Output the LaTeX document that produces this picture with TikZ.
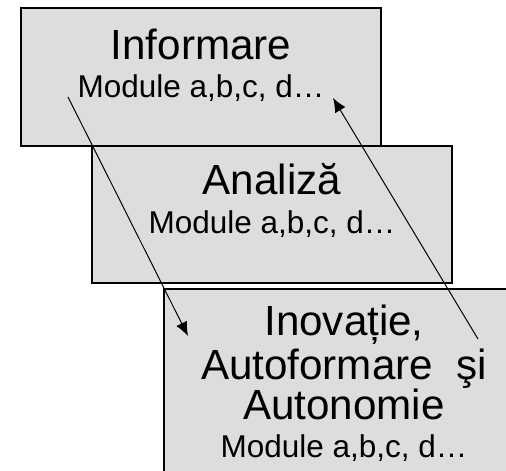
\documentclass[tikz,border=0pt]{standalone}
\usepackage{fontspec}
\setmainfont{Liberation Sans}
\usepackage{xcolor}
\usetikzlibrary{arrows.meta}
\definecolor{boxgray}{HTML}{DDDDDD}

\begin{document}
\begin{tikzpicture}[box/.style={draw=black,fill=boxgray,line width=1.1pt,minimum width=9cm},
  big/.style={anchor=base,font=\fontsize{30}{30}\selectfont},
  small/.style={anchor=base,font=\fontsize{22.4}{22.4}\selectfont},
  flow/.style={-{Latex[length=10pt,width=8.5pt]},line width=0.7pt}]
\useasboundingbox (0,0) rectangle (12.65,11.75);
\clip (0,0) rectangle (12.65,11.75);
%%\draw[help lines] (0,0) grid (12,11);
\node [box, minimum height=3.45cm] (inf) at (5.025,9.825) {};
\node [box, minimum height=3.425cm] (ana) at (6.8,6.3875) {};
\node [box, minimum height=5.2cm] (ino) at (8.6,1.925) {};
\node [big] (infT) at (5.025,10.25) {Informare};
\node [small] (infM) at (5.025,9.3) {Module a,b,c, d…};
\node [big] (anaT) at (6.8,6.875) {Analiză};
\node [small] (anaM) at (6.8,5.9) {Module a,b,c, d…};
\node [big] (inoA) at (8.6,3.375) {Inovație,};
\node [big] (inoB) at (8.6,2.275) {Autoformare\ \ şi};
\node [big] (inoC) at (8.6,1.275) {Autonomie};
\node [small] (inoM) at (8.6,0.325) {Module a,b,c, d…};
\coordinate (s1) at (1.7,9.325);
\coordinate (e1) at (4.7,3.35);
\coordinate (s2) at (11.95,3.275);
\coordinate (e2) at (8.325,9.3);
\draw [flow] (s1) -- (e1);
\draw [flow] (s2) -- (e2);
\end{tikzpicture}
\end{document}
